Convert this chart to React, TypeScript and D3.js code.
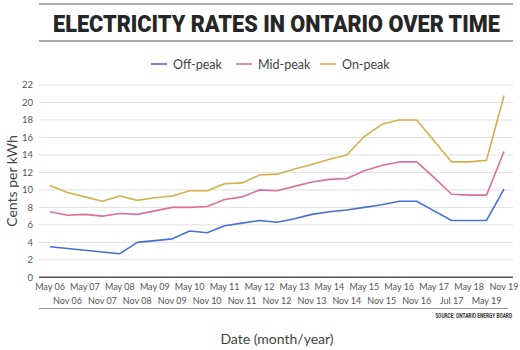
import React, { useLayoutEffect, useRef, useState } from 'react';
import * as d3 from 'd3';

// periods as shown on the x axis (alternating rows)
const periods = [
  'May 06', 'Nov 06', 'May 07', 'Nov 07', 'May 08', 'Nov 08', 'May 09', 'Nov 09',
  'May 10', 'Nov 10', 'May 11', 'Nov 11', 'May 12', 'Nov 12', 'May 13', 'Nov 13',
  'May 14', 'Nov 14', 'May 15', 'Nov 15', 'May 16', 'Nov 16', 'May 17', 'Jul 17',
  'May 18', 'May 19', 'Nov 19',
];

// cents per kWh
const offPeak = [
  3.5, 3.3, 3.1, 2.9, 2.7, 4.0, 4.2, 4.4, 5.3, 5.1, 5.9, 6.2, 6.5, 6.3, 6.7, 7.2,
  7.5, 7.7, 8.0, 8.3, 8.7, 8.7, 7.6, 6.5, 6.5, 6.5, 10.1,
];
const midPeak = [
  7.5, 7.1, 7.2, 7.0, 7.3, 7.2, 7.6, 8.0, 8.0, 8.1, 8.9, 9.2, 10.0, 9.9, 10.4, 10.9,
  11.2, 11.3, 12.2, 12.8, 13.2, 13.2, 11.4, 9.5, 9.4, 9.4, 14.4,
];
const onPeak = [
  10.5, 9.7, 9.2, 8.7, 9.3, 8.8, 9.1, 9.3, 9.9, 9.9, 10.7, 10.8, 11.7, 11.8, 12.4, 12.9,
  13.5, 14.0, 16.1, 17.5, 18.0, 18.0, 15.6, 13.2, 13.2, 13.4, 20.8,
];

const yTicks = [0, 2, 4, 6, 8, 10, 12, 14, 16, 18, 20, 22];

const series = [
  { name: 'Off-peak', values: offPeak, color: '#4470d8' },
  { name: 'Mid-peak', values: midPeak, color: '#dc6f9c' },
  { name: 'On-peak', values: onPeak, color: '#d6b04c' },
];

const W = 520;
const H = 350;
const FONT = 'Lato, "Open Sans", sans-serif';

// squeeze a text horizontally to a given width (the original uses a condensed face)
function FitText({ x, y, width, anchor, children, ...rest }: any) {
  const ref = useRef<SVGTextElement>(null);
  const [k, setK] = useState(1);
  useLayoutEffect(() => {
    if (!ref.current) return;
    const w = ref.current.getComputedTextLength();
    if (w > 0) setK(width / w);
  }, [width]);
  return (
    <g transform={`translate(${x},${y}) scale(${k},1)`}>
      <text ref={ref} x={0} y={0} textAnchor={anchor} {...rest}>{children}</text>
    </g>
  );
}

export default function App() {
  const x = d3.scalePoint<string>().domain(periods).range([50, 504]);
  const y = d3.scaleLinear().domain([0, 22]).range([277.3, 85]);
  const gridLeft = 39;
  const gridRight = 513;

  const line = (vals: number[]) =>
    d3.line<number>()
      .x((_, i) => x(periods[i]) as number)
      .y(d => y(d))(vals) as string;

  const legendX = [151, 236, 320];

  return (
    <svg width={W} height={H} style={{ position: 'absolute', left: 0, top: 0, background: '#fff' }}>
      {/* title block */}
      <line x1={gridLeft} x2={gridRight} y1={4} y2={4} stroke="#8e8e8e" strokeWidth={1.5} />
      <FitText x={276.5} y={32} width={447} anchor="middle" fontFamily="Roboto, sans-serif"
        fontWeight={900} fontSize={23.5} fill="#262626">
        ELECTRICITY RATES IN ONTARIO OVER TIME
      </FitText>
      <line x1={gridLeft} x2={gridRight} y1={41} y2={41} stroke="#8e8e8e" strokeWidth={1.5} />

      {/* legend */}
      {series.map((s, i) => (
        <g key={s.name} transform={`translate(${legendX[i]},64)`}>
          <line x1={0} x2={16} y1={0} y2={0} stroke={s.color} strokeWidth={1.6} />
          <text x={22} y={4.5} fontFamily={FONT} fontSize={12.5} fill="#444">{s.name}</text>
        </g>
      ))}

      {/* grid + y ticks */}
      {yTicks.map(t => (
        <g key={t}>
          {t !== 0 && (
            <line x1={gridLeft} x2={gridRight} y1={y(t)} y2={y(t)} stroke="#e3e0da" strokeWidth={1} />
          )}
          <text x={33} y={y(t) + 3.3} textAnchor="end" fontFamily={FONT} fontSize={9.5} fill="#555">{t}</text>
        </g>
      ))}
      <line x1={gridLeft} x2={gridRight} y1={y(0)} y2={y(0)} stroke="#555" strokeWidth={1.5} />

      {/* y label */}
      <text transform={`translate(17,181) rotate(-90)`} textAnchor="middle" fontFamily={FONT}
        fontSize={14} fill="#444">Cents per kWh</text>

      {/* series */}
      {series.map(s => (
        <path key={s.name} d={line(s.values)} fill="none" stroke={s.color} strokeWidth={1.6}
          strokeLinejoin="round" />
      ))}

      {/* x tick labels, two rows */}
      {periods.map((p, i) => (
        <text key={p} x={x(p)} y={i % 2 === 0 ? 290 : 304} textAnchor="middle"
          fontFamily={FONT} fontSize={9} fill="#555">{p}</text>
      ))}
      <line x1={gridLeft} x2={508} y1={308.5} y2={308.5} stroke="#9a9a9a" strokeWidth={1} />

      <FitText x={512} y={318} width={77} anchor="end" fontFamily="Roboto, sans-serif"
        fontWeight={700} fontSize={6.5} fill="#333">
        SOURCE: ONTARIO ENERGY BOARD
      </FitText>

      <text x={277} y={344} textAnchor="middle" fontFamily={FONT} fontSize={14} fill="#444">
        Date (month/year)
      </text>
    </svg>
  );
}
